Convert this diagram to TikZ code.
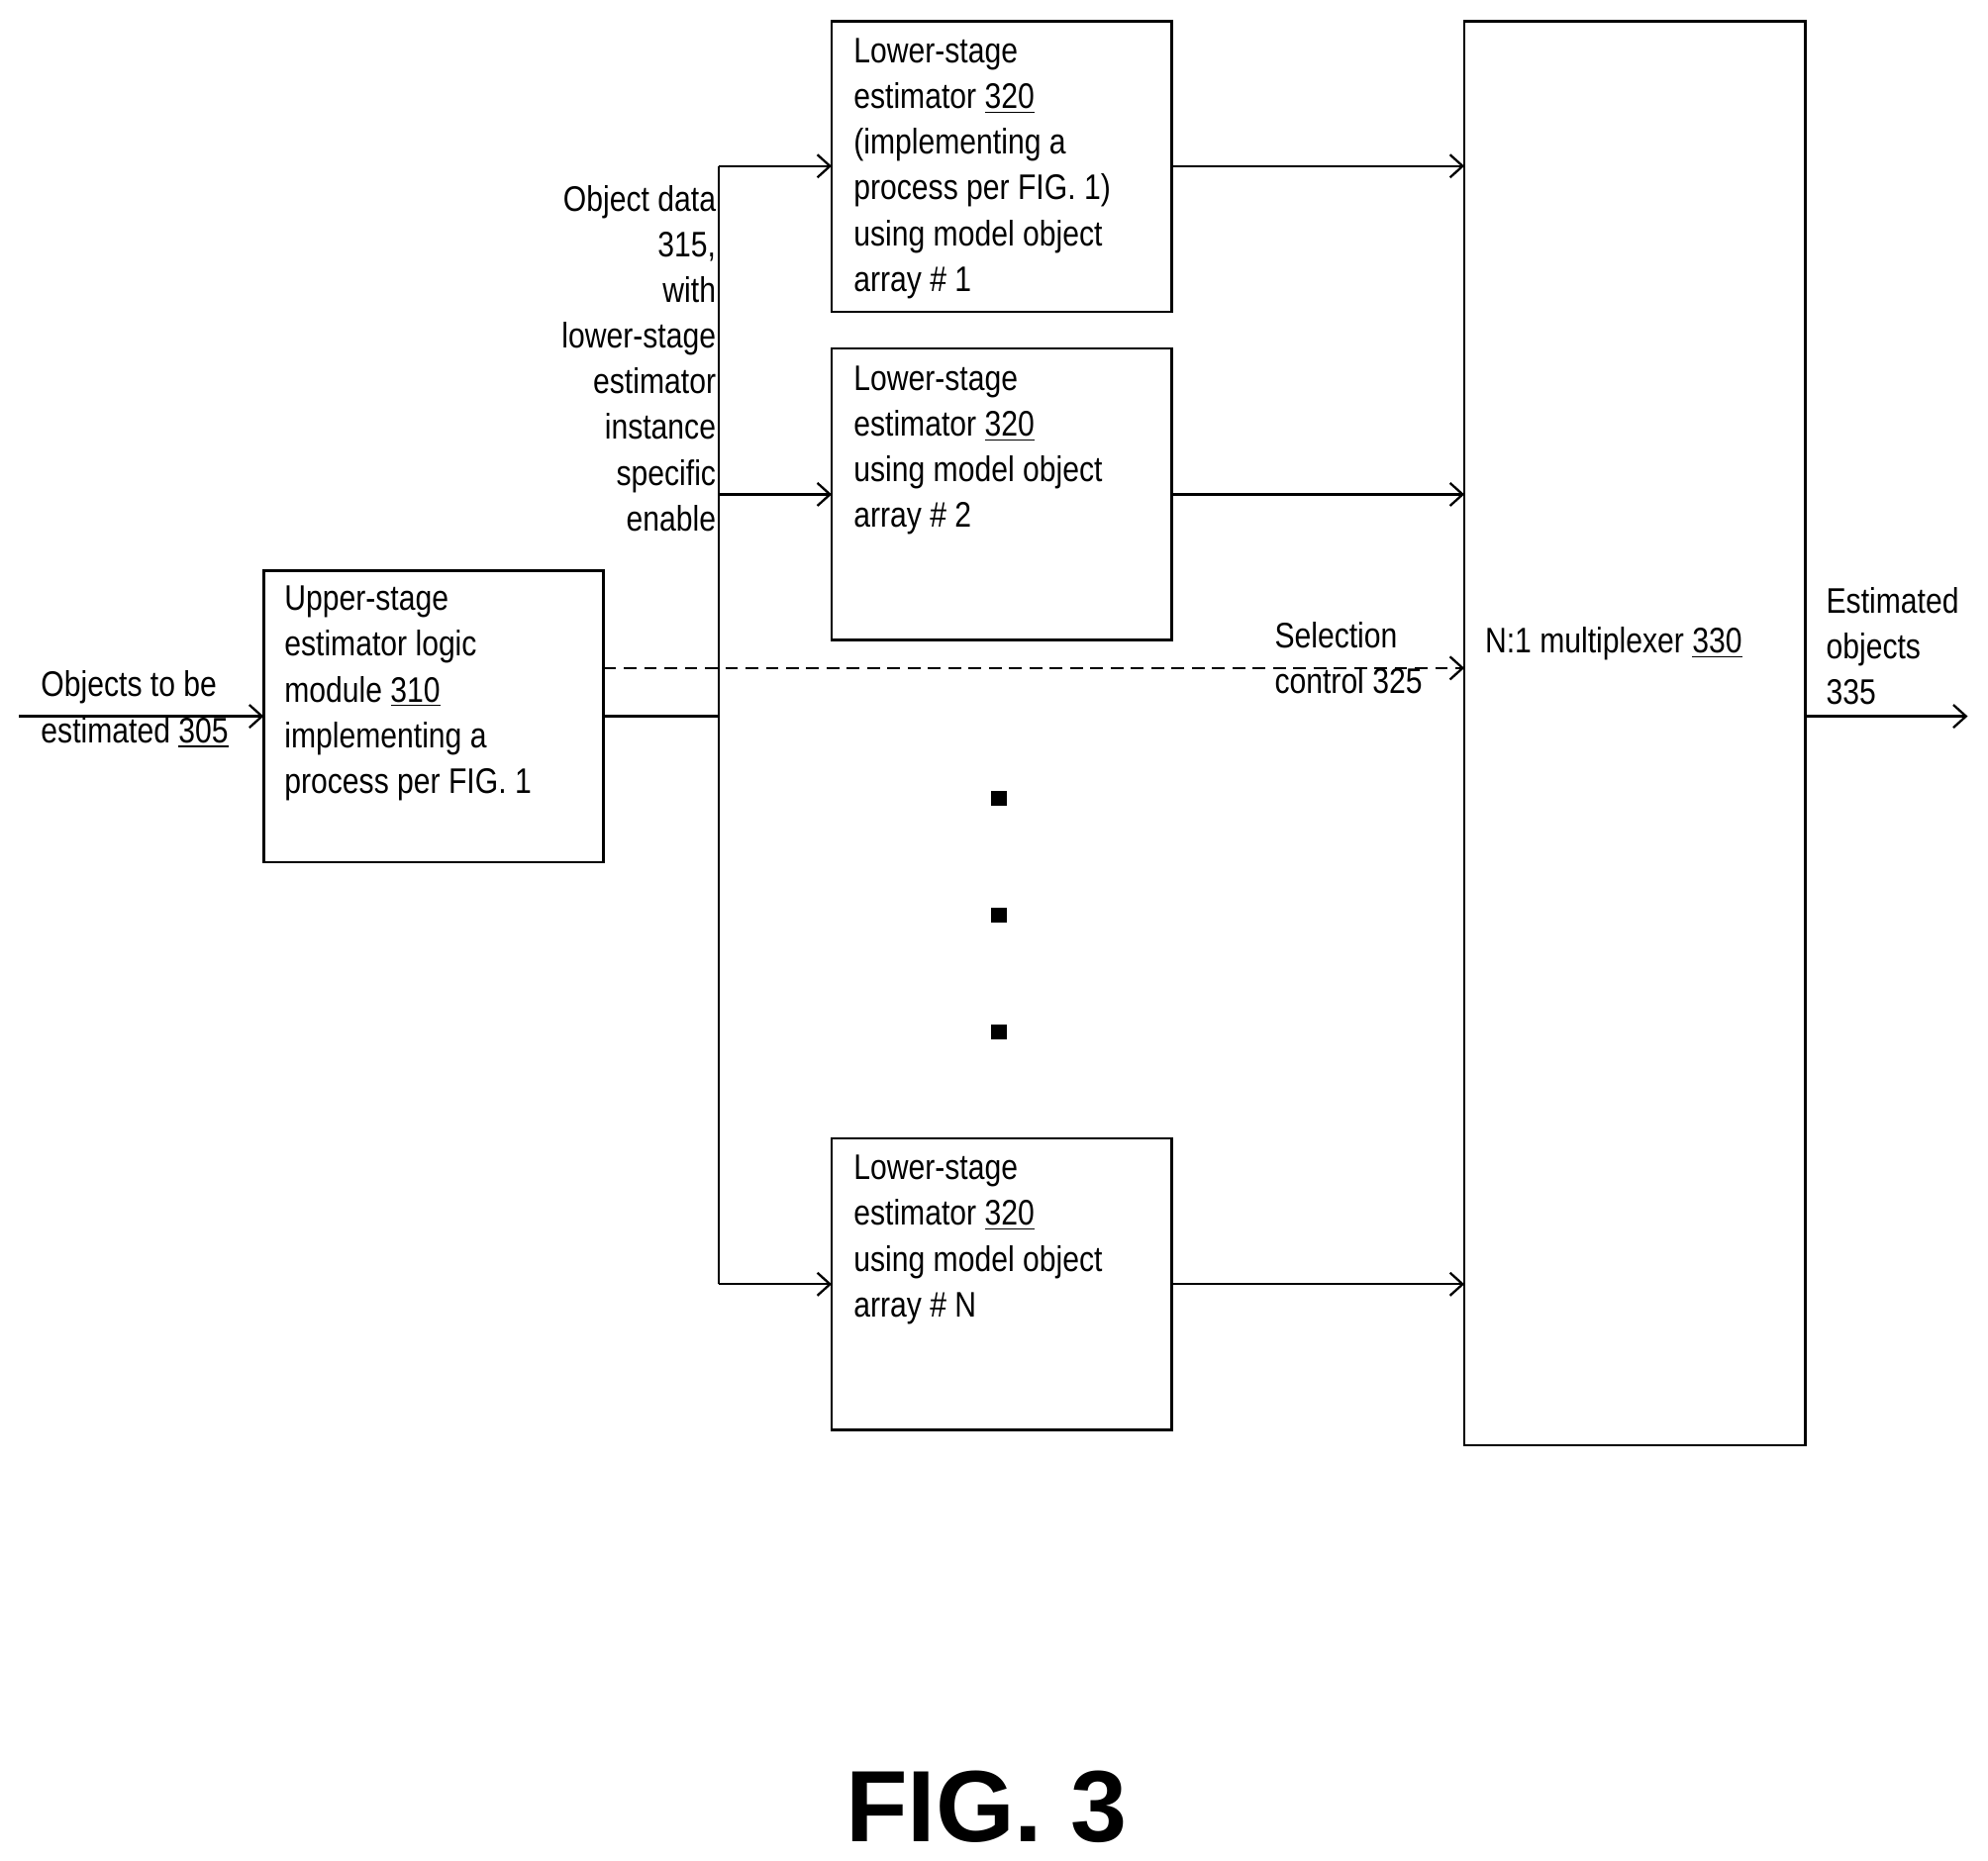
\documentclass[tikz,border=0pt]{standalone}
\usepackage{fontspec}
\setmainfont[FakeStretch=0.84]{Liberation Sans}
\newfontfamily\figfont{Liberation Sans}
\usetikzlibrary{arrows.meta}
\begin{document}
\begin{tikzpicture}[x=0.5pt,y=-0.5pt,
  box/.style={draw,line width=1pt},
  lab/.style={inner sep=0pt,font=\fontsize{14pt}{18pt}\selectfont},
  arr/.style={-{Straight Barb[length=5pt,width=9pt]},line width=0.9pt},
  ln/.style={line width=0.9pt}]
\useasboundingbox (0,0) rectangle (1568,1468);
\draw[box] (208,450) rectangle (476,680);
\node (up) at (342,565) [minimum width=134pt,minimum height=115pt] {};
\draw[box] (656,17) rectangle (924,246);
\draw[box] (656,275) rectangle (924,505);
\draw[box] (656,898) rectangle (924,1128);
\draw[box] (1155,17) rectangle (1424,1140);
\coordinate (in) at (15,565);
\coordinate (upL) at (208,565);
\coordinate (upR) at (476,565);
\coordinate (busT) at (567,131);
\coordinate (busM) at (567,565);
\coordinate (busB) at (567,1013);
\coordinate (b2) at (567,390);
\draw[arr] (in) -- (upL);
\draw[ln] (upR) -- (busM);
\draw[ln] (busT) -- (busB);
\draw[arr] (busT) -- (656,131);
\draw[arr] (b2) -- (656,390);
\draw[arr] (busB) -- (656,1013);
\draw[arr] (924,131) -- (1155,131);
\draw[arr] (924,390) -- (1155,390);
\draw[arr] (924,1013) -- (1155,1013);
\draw[arr,dashed,dash pattern=on 5pt off 3pt] (476,527) -- (1155,527);
\draw[arr] (1424,565) -- (1552,565);
\foreach \y in {630,722,814} \fill (782,\y-6) rectangle (794,\y+6);
\node[lab,anchor=north west,align=left] at (224,462) {Upper-stage\\estimator logic\\module \underline{310}\\implementing a\\process per FIG. 1};
\node[lab,anchor=north west,align=left] at (673,30) {Lower-stage\\estimator \underline{320}\\(implementing a\\process per FIG. 1)\\using model object\\array \# 1};
\node[lab,anchor=north west,align=left] at (673,288) {Lower-stage\\estimator \underline{320}\\using model object\\array \# 2};
\node[lab,anchor=north west,align=left] at (673,911) {Lower-stage\\estimator \underline{320}\\using model object\\array \# N};
\node[lab,anchor=north east,align=right] at (565,146) {Object data\\315,\\with\\lower-stage\\estimator\\instance\\specific\\enable};
\node[lab,anchor=north west,align=left] at (32,529) {Objects to be\\estimated \underline{305}};
\node[lab,anchor=north west,align=left] at (1005,490) {Selection\\control 325};
\node[lab,anchor=north west,align=left] at (1440,463) {Estimated\\objects\\335};
\node[lab,anchor=north west] at (1171,494) {N:1 multiplexer \underline{330}};
\node[inner sep=0pt,font=\figfont\bfseries\fontsize{40pt}{48pt}\selectfont] at (778,1425) {FIG. 3};
\end{tikzpicture}
\end{document}
